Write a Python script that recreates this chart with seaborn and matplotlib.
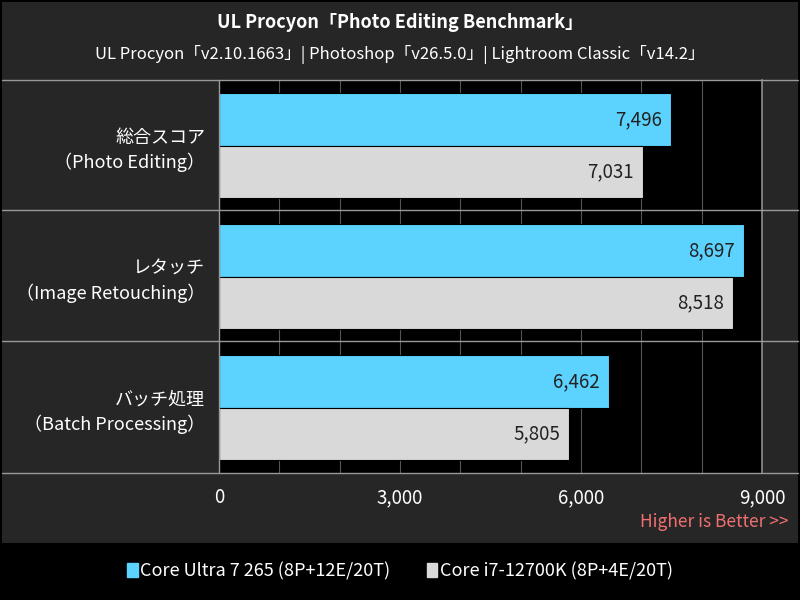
import matplotlib
matplotlib.use("Agg")
import matplotlib.pyplot as plt
import seaborn as sns
import pandas as pd
from matplotlib.lines import Line2D
from matplotlib.patches import Rectangle

categories = ["総合スコア\n（Photo Editing）", "レタッチ\n（Image Retouching）", "バッチ処理\n（Batch Processing）"]
series_names = ["Core Ultra 7 265 (8P+12E/20T)", "Core i7-12700K (8P+4E/20T)"]
ultra = [7496, 8697, 6462]
i7 = [7031, 8518, 5805]
colors = ["#5CD3FF", "#D9D9D9"]

sns.set_theme(style="dark")
plt.rcParams['font.family'] = ['Noto Sans CJK JP', 'DejaVu Sans']

df = pd.DataFrame({
    "cat": categories * 2,
    "cpu": [series_names[0]] * 3 + [series_names[1]] * 3,
    "val": ultra + i7,
})

fig = plt.figure(figsize=(8, 6), dpi=100, facecolor="black")
fig.patches.append(Rectangle((0.003, 1 - 543 / 600), 0.994, 543 / 600 - 0.003,
                             transform=fig.transFigure, facecolor="#262626", edgecolor="none", zorder=-10))
ax = fig.add_axes([219 / 800, 1 - 473 / 600, (762 - 219) / 800, (473 - 80) / 600])
ax.set_facecolor("black")
ax.set_xlim(0, 9000)
for x in range(1000, 9000, 1000):
    ax.axvline(x, color="#555555", lw=0.8, zorder=0)
sns.barplot(data=df, y="cat", x="val", hue="cpu", palette=colors, orient="h",
            ax=ax, legend=False, saturation=1, linewidth=0.8, edgecolor="black", zorder=2)
ax.set_ylim(2.5, -0.5)
for c in ax.containers:
    for bar in c:
        w = bar.get_width()
        ax.text(w - 150, bar.get_y() + bar.get_height() / 2, f"{w:,.0f}", ha="right", va="center",
                fontsize=13.5, color="#222222", zorder=3)
ax.set_xticks([0, 3000, 6000, 9000])
ax.set_xticklabels(["0", "3,000", "6,000", "9,000"], color="white", fontsize=13.5)
ax.set_yticks([0, 1, 2])
ax.set_yticklabels(categories, color="white", fontsize=13, linespacing=1.4)
ax.tick_params(axis="y", length=0, pad=10)
ax.tick_params(axis="x", length=0, pad=10)
ax.set_xlabel("")
ax.set_ylabel("")
for s in ax.spines.values():
    s.set_visible(False)
ax.spines["right"].set_visible(True)
ax.spines["right"].set_color("#888888")

for yp in [80, 210, 341, 473]:
    yf = 1 - yp / 600
    fig.add_artist(Line2D([0.003, 0.997], [yf, yf], transform=fig.transFigure, color="#999999", lw=1))
fig.add_artist(Line2D([0.274, 0.274], [1 - 473 / 600, 1 - 80 / 600], transform=fig.transFigure, color="#999999", lw=1))

fig.text(0.5, 1 - 22 / 600, "UL Procyon「Photo Editing Benchmark」", ha="center", va="center",
         color="white", fontsize=13, fontweight="bold")
fig.text(0.5, 1 - 55 / 600, "UL Procyon「v2.10.1663」| Photoshop「v26.5.0」| Lightroom Classic「v14.2」",
         ha="center", va="center", color="white", fontsize=12)
fig.text(788 / 800, 1 - 522 / 600, "Higher is Better >>", ha="right", va="center",
         color="#F07070", fontsize=12.5)

handles = [Rectangle((0, 0), 1, 1, color=c) for c in colors]
fig.legend(handles, series_names, loc="center", bbox_to_anchor=(0.5, 1 - 571 / 600), ncol=2,
           frameon=False, labelcolor="white", fontsize=13, handlelength=0.6, handleheight=0.8,
           handletextpad=0.15, columnspacing=2.0)

fig.savefig("out.png", dpi=100, facecolor="black")
